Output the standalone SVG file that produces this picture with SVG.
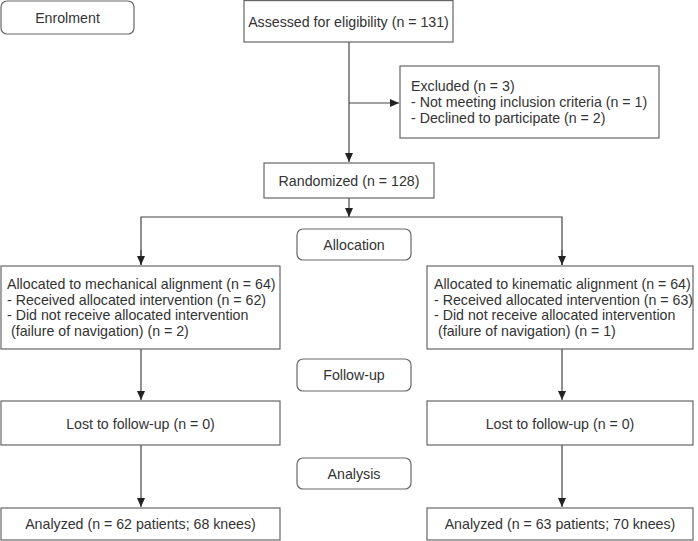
<svg xmlns="http://www.w3.org/2000/svg" width="698" height="541" viewBox="0 0 698 541">
<style>
  .box { fill: #ffffff; stroke: #666666; stroke-width: 1.2; }
  .t { font-family: "Liberation Sans", Arial, sans-serif; font-size: 14.2px; fill: #333333; }
  .c { text-anchor: middle; dominant-baseline: central; }
  .ln { fill: none; stroke: #444444; stroke-width: 1.2; }
</style>
<defs>
  <marker id="arr" markerWidth="10" markerHeight="10" refX="9" refY="5" orient="auto" markerUnits="userSpaceOnUse">
    <path d="M0,1 L9,5 L0,9 Z" fill="#222222"/>
  </marker>
</defs>
<rect width="698" height="541" fill="#ffffff"/>

<g id="connectors">
  <line class="ln" x1="349" y1="42" x2="349" y2="162" marker-end="url(#arr)"/>
  <line class="ln" x1="349" y1="103" x2="399" y2="103" marker-end="url(#arr)"/>
  <line class="ln" x1="349" y1="198" x2="349" y2="217" marker-end="url(#arr)"/>
  <polyline class="ln" points="141,265 141,217 562,217 562,265"/>
  <line class="ln" x1="141" y1="250" x2="141" y2="265" marker-end="url(#arr)"/>
  <line class="ln" x1="562" y1="250" x2="562" y2="265" marker-end="url(#arr)"/>
  <line class="ln" x1="141" y1="349" x2="141" y2="400" marker-end="url(#arr)"/>
  <line class="ln" x1="562" y1="349" x2="562" y2="400" marker-end="url(#arr)"/>
  <line class="ln" x1="141" y1="445" x2="141" y2="507" marker-end="url(#arr)"/>
  <line class="ln" x1="562" y1="445" x2="562" y2="507" marker-end="url(#arr)"/>
</g>

<g id="enrolment">
  <rect class="box" x="1" y="1" width="133" height="33" rx="6"/>
  <text class="t c" x="67.5" y="17.5">Enrolment</text>
</g>
<g id="assessed">
  <rect class="box" x="244" y="0.6" width="209" height="41.4"/>
  <text class="t c" x="348.5" y="21.5">Assessed for eligibility (n = 131)</text>
</g>
<g id="excluded">
  <rect class="box" x="400" y="66" width="259" height="72"/>
  <text class="t" x="411" y="91">Excluded (n = 3)</text>
  <text class="t" x="411" y="107">- Not meeting inclusion criteria (n = 1)</text>
  <text class="t" x="411" y="123">- Declined to participate (n = 2)</text>
</g>
<g id="randomized">
  <rect class="box" x="264" y="163" width="170" height="35"/>
  <text class="t c" x="349" y="180.5">Randomized (n = 128)</text>
</g>
<g id="allocation">
  <rect class="box" x="297" y="229" width="114" height="31" rx="6"/>
  <text class="t c" x="354" y="244.5">Allocation</text>
</g>
<g id="alloc-mech">
  <rect class="box" x="1" y="266" width="279" height="83"/>
  <text class="t" x="7" y="289">Allocated to mechanical alignment (n = 64)</text>
  <text class="t" x="7" y="304.5">- Received allocated intervention (n = 62)</text>
  <text class="t" x="7" y="320">- Did not receive allocated intervention</text>
  <text class="t" x="11" y="335.5">(failure of navigation) (n = 2)</text>
</g>
<g id="alloc-kin">
  <rect class="box" x="427" y="266" width="266" height="83"/>
  <text class="t" x="434" y="289">Allocated to kinematic alignment (n = 64)</text>
  <text class="t" x="434" y="304.5">- Received allocated intervention (n = 63)</text>
  <text class="t" x="434" y="320">- Did not receive allocated intervention</text>
  <text class="t" x="438" y="335.5">(failure of navigation) (n = 1)</text>
</g>
<g id="followup">
  <rect class="box" x="297" y="359" width="114" height="32" rx="6"/>
  <text class="t c" x="354" y="375">Follow-up</text>
</g>
<g id="lost-mech">
  <rect class="box" x="1" y="401" width="279" height="44"/>
  <text class="t c" x="140.5" y="424">Lost to follow-up (n = 0)</text>
</g>
<g id="lost-kin">
  <rect class="box" x="427" y="401" width="266" height="44"/>
  <text class="t c" x="560" y="424">Lost to follow-up (n = 0)</text>
</g>
<g id="analysis">
  <rect class="box" x="297" y="458" width="114" height="31" rx="6"/>
  <text class="t c" x="354" y="473.5">Analysis</text>
</g>
<g id="analyzed-mech">
  <rect class="box" x="1" y="508" width="279" height="32"/>
  <text class="t c" x="140.5" y="524">Analyzed (n = 62 patients; 68 knees)</text>
</g>
<g id="analyzed-kin">
  <rect class="box" x="427" y="508" width="266" height="32"/>
  <text class="t c" x="560" y="524">Analyzed (n = 63 patients; 70 knees)</text>
</g>
</svg>
